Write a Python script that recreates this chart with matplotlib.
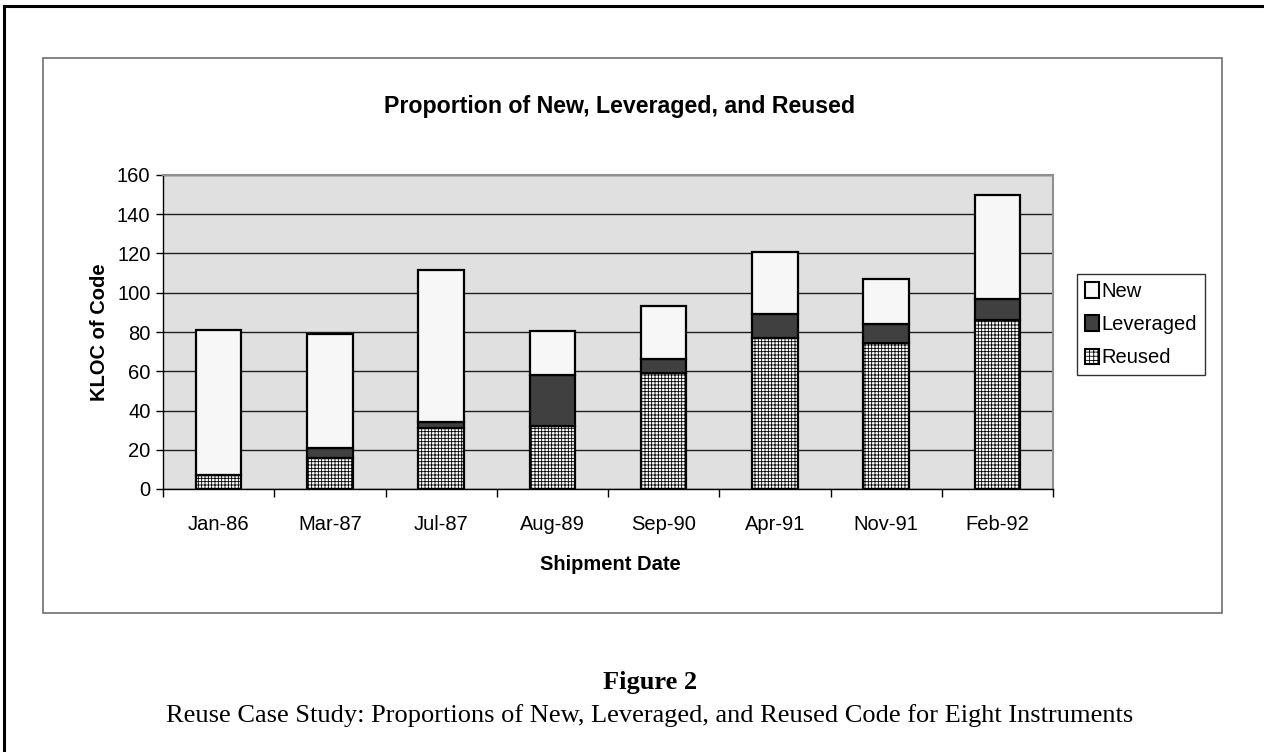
import matplotlib
matplotlib.use("Agg")
import matplotlib.pyplot as plt
from matplotlib.patches import Rectangle, Patch
from matplotlib.lines import Line2D
import numpy as np

dates = ["Jan-86", "Mar-87", "Jul-87", "Aug-89", "Sep-90", "Apr-91", "Nov-91", "Feb-92"]
reused = [7, 16, 31, 32, 59, 77, 74.5, 86]
leveraged = [0, 5, 3, 26, 7, 12, 9.5, 11]
new = [74, 58, 77.5, 22.5, 27.5, 32, 23, 53]

W, H = 1264, 752
plt.rcParams['font.family'] = ['Liberation Sans', 'DejaVu Sans']
plt.rcParams['hatch.linewidth'] = 0.6

fig = plt.figure(figsize=(W / 100, H / 100), dpi=100)

# page frame (left + top) and chart-area frame
fig.add_artist(Line2D([4 / W, 4 / W], [0, 1 - 6 / H], transform=fig.transFigure, color='black', lw=2.2))
fig.add_artist(Line2D([4 / W, 1], [1 - 6 / H, 1 - 6 / H], transform=fig.transFigure, color='black', lw=2.2))
fig.add_artist(Rectangle((43 / W, 1 - 613 / H), (1222 - 43) / W, (613 - 58) / H,
                         transform=fig.transFigure, fill=False, edgecolor='#707070', lw=1.2))

ax = fig.add_axes([163 / W, 1 - 489 / H, (1053 - 163) / W, (489 - 175) / H])
ax.set_facecolor('#e0e0e0')

x = np.arange(len(dates))
bw = 0.41
bottom2 = np.array(reused) + np.array(leveraged)
ax.bar(x, reused, bw, color='white', edgecolor='black', hatch='+++++', lw=1.6, zorder=3)
ax.bar(x, leveraged, bw, bottom=reused, color='#404040', edgecolor='black', lw=1.6, zorder=3)
ax.bar(x, new, bw, bottom=bottom2, color='#f7f7f7', edgecolor='black', lw=1.6, zorder=3)

ax.set_xlim(-0.5, len(dates) - 0.5)
ax.set_ylim(0, 160)
ax.set_yticks(range(0, 161, 20))
ax.yaxis.grid(True, color='#202020', lw=1.0, zorder=0)
ax.set_axisbelow(True)

ax.set_xticks(x)
ax.set_xticklabels(dates, fontsize=14.5)
ax.set_xticks(np.arange(-0.5, len(dates)), minor=True)
ax.tick_params(axis='x', which='major', length=0, pad=19)
ax.tick_params(axis='x', which='minor', length=6, width=1, direction='out')
ax.tick_params(axis='y', length=5, width=1, pad=4, labelsize=14.5)

for s in ['top', 'right']:
    ax.spines[s].set_color('#909090')
    ax.spines[s].set_linewidth(1.5)
for s in ['left', 'bottom']:
    ax.spines[s].set_color('black')
    ax.spines[s].set_linewidth(1.0)

ax.set_ylabel("KLOC of Code", fontsize=14.5, fontweight='bold', labelpad=6)
fig.text(620 / W, 1 - 107 / H, "Proportion of New, Leveraged, and Reused",
         fontsize=16.7, fontweight='bold', ha='center', va='center')
fig.text(610 / W, 1 - 565 / H, "Shipment Date", fontsize=14.5, fontweight='bold',
         ha='center', va='center')

handles = [Patch(facecolor='#f7f7f7', edgecolor='black', lw=1.5, label='New'),
           Patch(facecolor='#404040', edgecolor='black', lw=1.5, label='Leveraged'),
           Patch(facecolor='white', edgecolor='black', lw=1.5, hatch='++++', label='Reused')]
leg = fig.legend(handles=handles, loc='upper left', bbox_to_anchor=(1077 / W, 1 - 274 / H),
                 fontsize=14.5, frameon=True, fancybox=False, edgecolor='black',
                 handlelength=0.7, handleheight=0.8, handletextpad=0.12,
                 borderaxespad=0, borderpad=0.4, labelspacing=0.7)
leg.get_frame().set_linewidth(1.0)

fig.text(650 / W, 1 - 682 / H, "Figure 2", fontsize=19, fontweight='bold',
         family=['Liberation Serif', 'DejaVu Serif'], ha='center', va='center')
fig.text(650 / W, 1 - 716 / H,
         "Reuse Case Study: Proportions of New, Leveraged, and Reused Code for Eight Instruments",
         fontsize=19, family=['Liberation Serif', 'DejaVu Serif'], ha='center', va='center')

fig.savefig("out.png", dpi=100)
